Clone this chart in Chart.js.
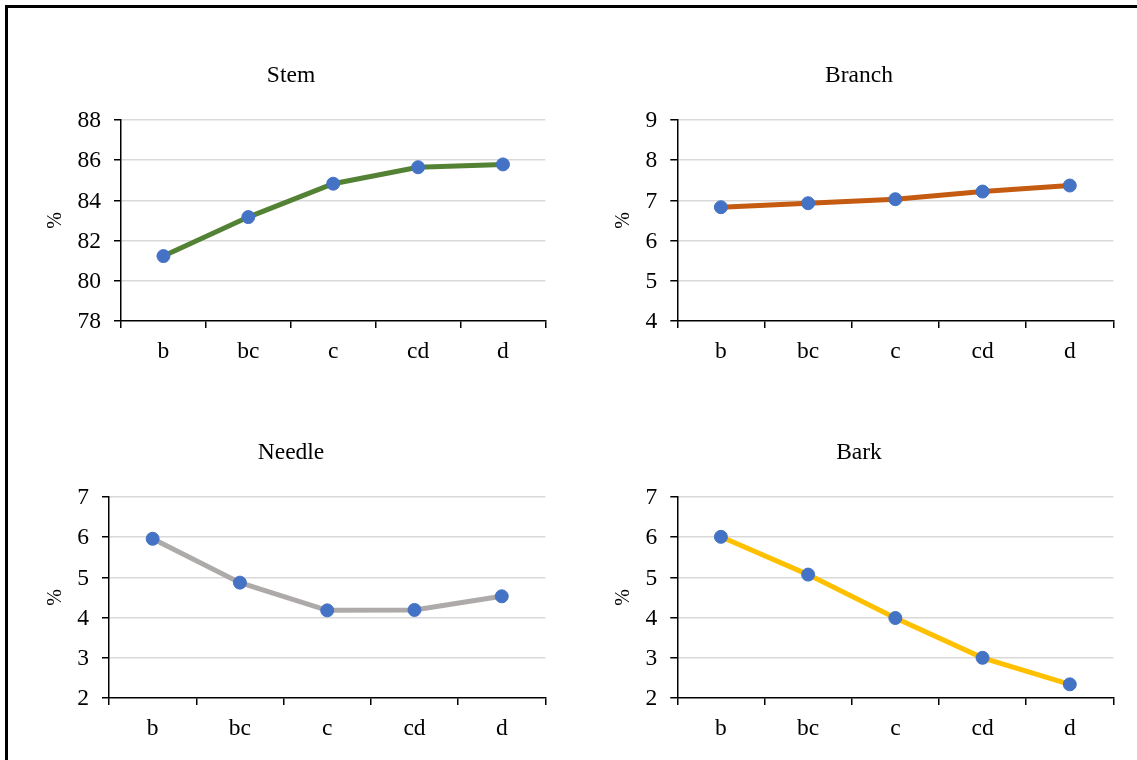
<!DOCTYPE html>
<html>
<head>
<meta charset="utf-8">
<title>Stem, Branch, Needle, Bark</title>
<script src="https://cdn.jsdelivr.net/npm/chart.js@4/dist/chart.umd.min.js"></script>
<style>
  body { margin: 0; background: #fff; width: 1137px; height: 760px; overflow: hidden; position: relative; }
  #frame { position: absolute; left: 5px; top: 5px; width: 1200px; height: 800px; border-left: 3px solid #000; border-top: 3px solid #000; }
  canvas { position: absolute; }
</style>
</head>
<body>
<div id="frame"></div>
<canvas id="stem" width="568" height="377" style="left:0px;top:0px"></canvas>
<canvas id="branch" width="568" height="377" style="left:568px;top:0px"></canvas>
<canvas id="needle" width="568" height="377" style="left:0px;top:377px"></canvas>
<canvas id="bark" width="568" height="377" style="left:568px;top:377px"></canvas>
<script>
var categories = ['b', 'bc', 'c', 'cd', 'd'];

var stemValues = [81.23, 83.17, 84.83, 85.65, 85.79];
var branchValues = [6.83, 6.93, 7.03, 7.22, 7.37];
var needleValues = [5.96, 4.87, 4.18, 4.19, 4.53];
var barkValues = [6.01, 5.07, 3.99, 3.00, 2.34];

var stemTicks = [78, 80, 82, 84, 86, 88];
var branchTicks = [4, 5, 6, 7, 8, 9];
var needleTicks = [2, 3, 4, 5, 6, 7];
var barkTicks = [2, 3, 4, 5, 6, 7];

Chart.defaults.font.family = "'Liberation Serif', 'Times New Roman', serif";
Chart.defaults.font.size = 23.5;
Chart.defaults.color = '#000';

function makeChart(id, title, values, lineColor, ticks, axisWidth) {
    var ctx = document.getElementById(id).getContext('2d');
    return new Chart(ctx, {
        type: 'line',
        data: {
            labels: categories,
            datasets: [{
                data: values,
                borderColor: lineColor,
                borderWidth: 5,
                pointRadius: 6.5,
                pointBorderWidth: 1,
                pointBackgroundColor: '#4472C4',
                pointBorderColor: '#4472C4',
                tension: 0,
                clip: false
            }]
        },
        options: {
            responsive: false,
            animation: false,
            layout: { padding: { left: 36.6, right: 22.6, top: 0, bottom: 0 } },
            plugins: {
                legend: { display: false },
                tooltip: { enabled: false },
                title: {
                    display: true,
                    text: title,
                    color: '#000',
                    font: { size: 23.5, weight: 'normal' },
                    padding: { top: 61.5, bottom: 30.3 }
                }
            },
            scales: {
                x: {
                    offset: true,
                    grid: { offset: true, drawOnChartArea: false, drawTicks: true, tickLength: 7, color: '#000', lineWidth: 1.5 },
                    border: { color: '#000', width: 1.5 },
                    ticks: { padding: 9.5 },
                    afterFit: function(scale) { scale.height = 56; }
                },
                y: {
                    min: ticks[0],
                    max: ticks[ticks.length - 1],
                    ticks: { stepSize: ticks[1] - ticks[0], padding: 13, labelOffset: 1 },
                    grid: {
                        color: function(c) { return c.index === 0 ? 'rgba(0,0,0,0)' : '#D9D9D9'; },
                        lineWidth: 1.5,
                        tickColor: '#000',
                        tickLength: 7,
                        tickWidth: 1.5
                    },
                    border: { color: '#000', width: 1.5 },
                    title: { display: true, text: '%', font: { size: 20 }, padding: { top: 7.4, bottom: 0 } },
                    afterFit: function(scale) { scale.width = axisWidth; }
                }
            }
        }
    });
}

makeChart('stem', 'Stem', stemValues, '#548235', stemTicks, 84.4);
makeChart('branch', 'Branch', branchValues, '#C55A11', branchTicks, 72.7);
makeChart('needle', 'Needle', needleValues, '#AEAAAA', needleTicks, 72.4);
makeChart('bark', 'Bark', barkValues, '#FFC000', barkTicks, 72.7);
</script>
</body>
</html>
